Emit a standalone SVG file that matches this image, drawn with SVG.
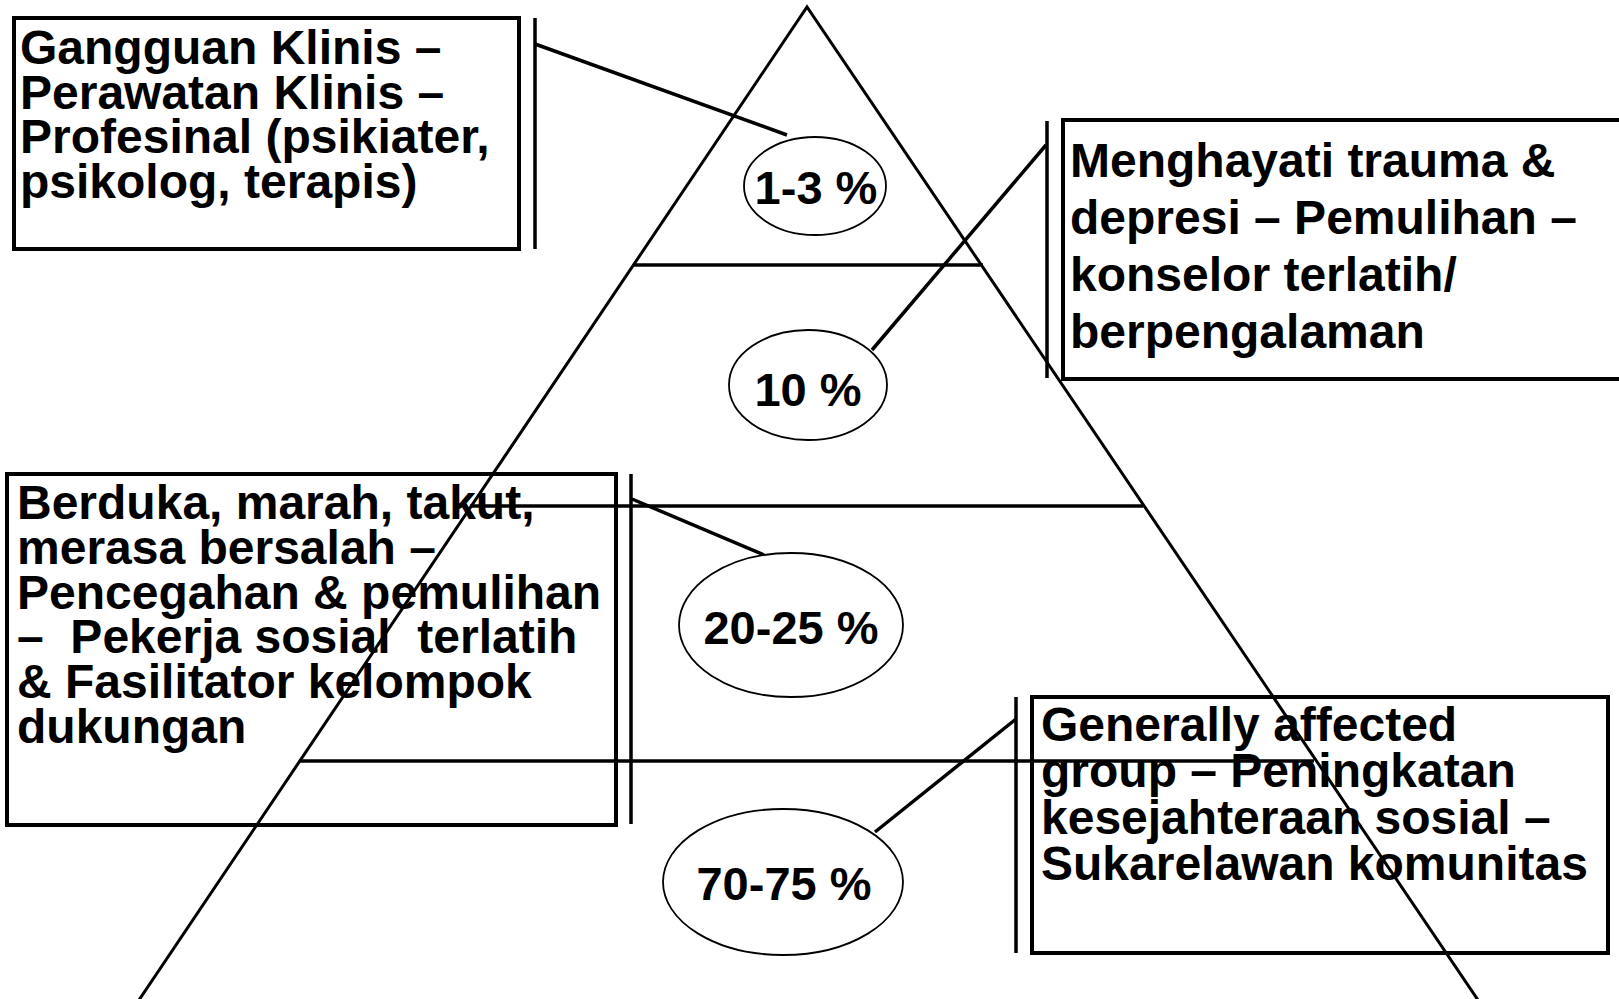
<svg xmlns="http://www.w3.org/2000/svg" width="1619" height="999" viewBox="0 0 1619 999">
<style>
  .bg { fill: #ffffff; }
  .box { fill: none; stroke: #000; stroke-width: 4; }
  .bar { stroke: #000; stroke-width: 3.5; }
  .tri { fill: none; stroke: #000; stroke-width: 3; }
  .conn { stroke: #000; stroke-width: 3.5; fill: none; }
  .ell { fill: #fff; stroke: #000; stroke-width: 1.8; }
  .t { font-family: "Liberation Sans", Arial, sans-serif; font-weight: bold; font-size: 48px; fill: #000; white-space: pre; }
  .p { font-family: "Liberation Sans", Arial, sans-serif; font-weight: bold; font-size: 47px; fill: #000; text-anchor: middle; }
</style>
<rect class="bg" x="0" y="0" width="1619" height="999"/>

<g id="pyramid">
  <polyline class="tri" points="137,1003 807,7 1480,1003"/>
  <line class="conn" x1="633" y1="265" x2="983" y2="265"/>
  <line class="conn" x1="470" y1="506" x2="1143" y2="506"/>
  <line class="conn" x1="299" y1="761" x2="1314" y2="761"/>
</g>

<g id="connectors">
  <line class="conn" x1="535" y1="44" x2="787" y2="135"/>
  <line class="conn" x1="1046" y1="145" x2="872" y2="350"/>
  <line class="conn" x1="632" y1="499" x2="764" y2="555"/>
  <line class="conn" x1="1016" y1="719" x2="875" y2="832"/>
</g>

<g id="level1">
  <ellipse class="ell" cx="815" cy="186" rx="71" ry="49"/>
  <text class="p" x="816" y="204">1-3 %</text>
</g>
<g id="level2">
  <ellipse class="ell" cx="808" cy="385" rx="79" ry="55"/>
  <text class="p" x="808" y="406">10 %</text>
</g>
<g id="level3">
  <ellipse class="ell" cx="791" cy="625" rx="112" ry="72"/>
  <text class="p" x="791" y="644">20-25 %</text>
</g>
<g id="level4">
  <ellipse class="ell" cx="783" cy="882" rx="120" ry="73"/>
  <text class="p" x="784" y="900">70-75 %</text>
</g>

<g id="box1">
  <rect class="box" x="14" y="18" width="505" height="231"/>
  <line class="bar" x1="535" y1="18" x2="535" y2="249"/>
  <text class="t" x="20" y="64">Gangguan Klinis –</text>
  <text class="t" x="20" y="109">Perawatan Klinis –</text>
  <text class="t" x="20" y="153">Profesinal (psikiater,</text>
  <text class="t" x="20" y="198">psikolog, terapis)</text>
</g>

<g id="box2">
  <rect class="box" x="1063" y="120" width="570" height="259"/>
  <line class="bar" x1="1047" y1="121" x2="1047" y2="378"/>
  <text class="t" x="1070" y="177">Menghayati trauma &amp;</text>
  <text class="t" x="1070" y="234">depresi – Pemulihan –</text>
  <text class="t" x="1070" y="291">konselor terlatih/</text>
  <text class="t" x="1070" y="348">berpengalaman</text>
</g>

<g id="box3">
  <rect class="box" x="7" y="474" width="609" height="351"/>
  <line class="bar" x1="631" y1="474" x2="631" y2="824"/>
  <text class="t" x="17" y="519">Berduka, marah, takut,</text>
  <text class="t" x="17" y="564">merasa bersalah –</text>
  <text class="t" x="17" y="609">Pencegahan &amp; pemulihan</text>
  <text class="t" x="17" y="653">–  Pekerja sosial  terlatih</text>
  <text class="t" x="17" y="698">&amp; Fasilitator kelompok</text>
  <text class="t" x="17" y="743">dukungan</text>
</g>

<g id="box4">
  <rect class="box" x="1032" y="697" width="576" height="256"/>
  <line class="bar" x1="1016" y1="697" x2="1016" y2="953"/>
  <text class="t" x="1041" y="741">Generally affected</text>
  <text class="t" x="1041" y="787">group – Peningkatan</text>
  <text class="t" x="1041" y="834">kesejahteraan sosial –</text>
  <text class="t" x="1041" y="880">Sukarelawan komunitas</text>
</g>
</svg>
